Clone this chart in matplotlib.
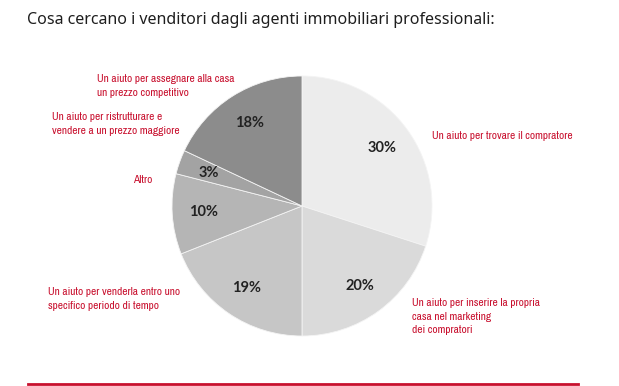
import matplotlib
matplotlib.use("Agg")
import matplotlib.pyplot as plt
from matplotlib import font_manager

W, H = 619, 386

# slices, clockwise from 12 o'clock
shares = [30, 20, 19, 10, 3, 18]
pct_labels = ["30%", "20%", "19%", "10%", "3%", "18%"]
slice_colors = ["#ececec", "#dadada", "#c6c6c6", "#b5b5b5", "#a3a3a3", "#8c8c8c"]
categories = [
    "Un aiuto per trovare il compratore",
    "Un aiuto per inserire la propria\ncasa nel marketing\ndei compratori",
    "Un aiuto per venderla entro uno\nspecifico periodo di tempo",
    "Altro",
    "Un aiuto per ristrutturare e\nvendere a un prezzo maggiore",
    "Un aiuto per assegnare alla casa\nun prezzo competitivo",
]
# label anchor (left/top) in pixels from the top-left corner
label_pos = [(432, 131), (412, 298), (48, 287), (133, 175), (52, 112), (97, 74)]

TITLE = "Cosa cercano i venditori dagli agenti immobiliari professionali:"
RED = "#c8102e"

# the red captions use a condensed face; take one if the system has it
condensed = sorted(
    {f.name for f in font_manager.fontManager.ttflist
     if f.stretch in ("condensed", "semi-condensed") or "Narrow" in f.name
     or "Condensed" in f.name}
)
if condensed:
    label_font = dict(family=[condensed[0], "DejaVu Sans"], fontstretch="condensed",
                      fontsize=8.2)
else:
    label_font = dict(family=["Roboto", "DejaVu Sans"], fontsize=7.2)

fig = plt.figure(figsize=(W / 100, H / 100), dpi=100)

# pie occupies a 260 px square centred at (302, 206)
cx, cy, r = 302, 206, 130
ax = fig.add_axes([(cx - r) / W, 1 - (cy + r) / H, 2 * r / W, 2 * r / H])
wedges, _, autotexts = ax.pie(
    shares,
    colors=slice_colors,
    startangle=90,
    counterclock=False,
    autopct="%1.0f%%",
    pctdistance=0.76,
    wedgeprops=dict(linewidth=0.6, edgecolor="#f4f4f4"),
    textprops=dict(color="#222222", fontsize=10.5, family=["Lato", "DejaVu Sans"],
                   fontweight="bold"),
)
for t, s in zip(autotexts, pct_labels):
    t.set_text(s)
ax.set_xlim(-1, 1)
ax.set_ylim(-1, 1)
ax.set_aspect("equal")
ax.axis("off")

fig.text(27 / W, 1 - 20 / H, TITLE, fontsize=11.5, color="#1e1e1e",
         family="Noto Sans", va="center", ha="left")

for text, (x, y) in zip(categories, label_pos):
    fig.text(x / W, 1 - y / H, text, color=RED, ha="left", va="top",
             linespacing=1.45, **label_font)

fig.add_artist(plt.Line2D([28 / W, 578 / W], [1 - 384 / H, 1 - 384 / H],
                          color=RED, linewidth=2))

fig.savefig("out.png", dpi=100)
